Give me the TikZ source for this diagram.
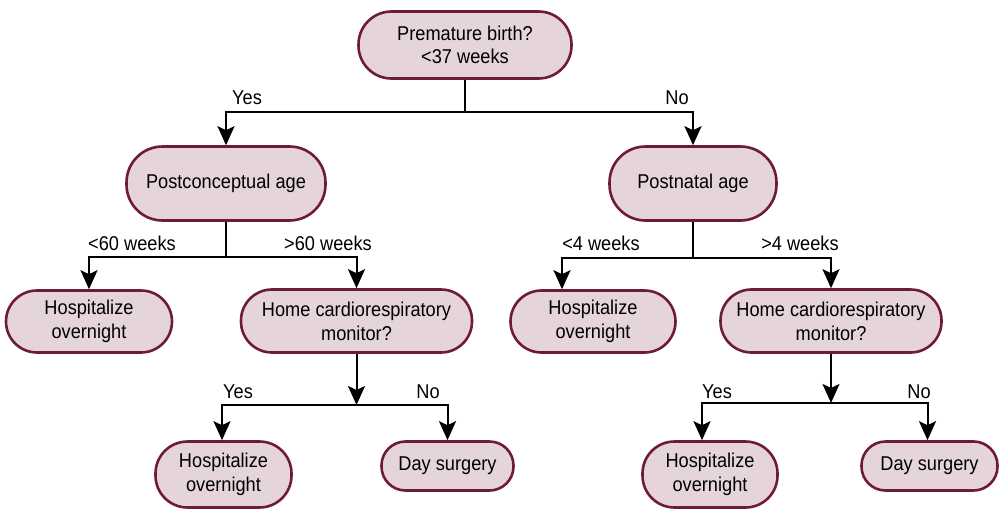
\documentclass[tikz,border=0pt]{standalone}
\usepackage{fontspec}
\setmainfont{Liberation Sans}[FakeStretch=0.91]
\usetikzlibrary{arrows.meta}
\definecolor{boxfill}{HTML}{E5D5DA}
\definecolor{boxline}{HTML}{6E1A3A}
\begin{document}
\begin{tikzpicture}[x=1pt,y=-1pt,
  every node/.style={font=\fontsize{20}{24}\selectfont, align=center, inner sep=0pt},
  termbox/.style={draw=boxline, fill=boxfill, line width=2.6pt, rounded corners=#1},
  lbl/.style={anchor=center},
  conn/.style={line width=2pt, black},
  arr/.style={conn, -{Stealth[length=19pt,width=17pt,inset=4pt]}}
]
\useasboundingbox (0,0) rectangle (1006,511);
% nodes
\node[termbox=33pt, minimum width=213pt, minimum height=67pt] (top) at (465,45) {Premature birth?\\[-1pt]<37 weeks};
\node[termbox=36pt, minimum width=199pt, minimum height=74pt] (pc) at (226,183.5) {Postconceptual age};
\node[termbox=36pt, minimum width=167pt, minimum height=74pt] (pn) at (693,183.5) {Postnatal age};
\node[termbox=31pt, minimum width=166pt, minimum height=62pt] (h1) at (89,321.5) {Hospitalize\\overnight};
\node[termbox=31pt, minimum width=231pt, minimum height=63pt] (m1) at (356.5,321) {Home cardiorespiratory\\monitor?};
\node[termbox=31pt, minimum width=165pt, minimum height=62pt] (h3) at (593,321.5) {Hospitalize\\overnight};
\node[termbox=31pt, minimum width=221pt, minimum height=63pt] (m2) at (831,321) {Home cardiorespiratory\\monitor?};
\node[termbox=32pt, minimum width=136pt, minimum height=66pt] (h2) at (223.5,474.5) {Hospitalize\\overnight};
\node[termbox=24pt, minimum width=132pt, minimum height=49pt] (d1) at (447.5,466) {Day surgery};
\node[termbox=32pt, minimum width=135pt, minimum height=66pt] (h4) at (710,474.5) {Hospitalize\\overnight};
\node[termbox=24pt, minimum width=136pt, minimum height=49pt] (d2) at (929.5,466) {Day surgery};
% junctions
\coordinate (j0) at (465,112);
\coordinate (j1) at (226,257);
\coordinate (j2) at (693,258);
\coordinate (j3) at (356.5,405);
\coordinate (j4) at (831,403);
% connectors
\draw[conn] (top.south) -- (j0);
\draw[arr] (j0) -| (pc.north);
\draw[arr] (j0) -| (pn.north);
\draw[conn] (pc.south) -- (j1);
\draw[arr] (j1) -| (h1.north);
\draw[arr] (j1) -| (m1.north);
\draw[conn] (pn.south) -- (j2);
\draw[arr] (j2) -| ([xshift=-31pt]h3.north);
\draw[arr] (j2) -| (m2.north);
\draw[arr] (m1.south) -- (j3);
\draw[arr] (j3) -| ([xshift=-1.5pt]h2.north);
\draw[arr] (j3) -| (d1.north);
\draw[arr] (m2.south) -- (j4);
\draw[arr] (j4) -| ([xshift=-8pt]h4.north);
\draw[arr] (j4) -| ([xshift=-2pt]d2.north);
% labels
\node[lbl] (l1) at (247,98) {Yes};
\node[lbl] (l2) at (677,98) {No};
\node[lbl] (l3) at (132,243) {<60 weeks};
\node[lbl] (l4) at (328,243) {>60 weeks};
\node[lbl] (l5) at (601,243) {<4 weeks};
\node[lbl] (l6) at (800,243) {>4 weeks};
\node[lbl] (l7) at (238,392) {Yes};
\node[lbl] (l8) at (428,392) {No};
\node[lbl] (l9) at (717,392) {Yes};
\node[lbl] (l10) at (919,392) {No};
\end{tikzpicture}
\end{document}
